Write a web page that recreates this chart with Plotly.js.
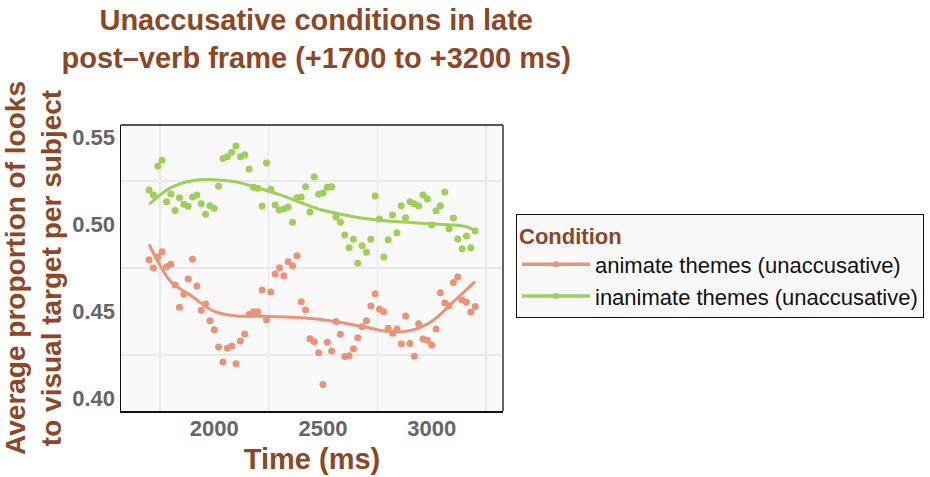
<!DOCTYPE html>
<html>
<head>
<meta charset="utf-8">
<script src="https://cdn.plot.ly/plotly-3.0.1.min.js"></script>
<style>html,body{margin:0;padding:0;background:#fff;}#chart{width:930px;height:477px;}</style>
</head>
<body>
<div id="chart"></div>
<script>
// ---- data ----
const timeMs = [1700,1720,1740,1760,1780,1800,1820,1840,1860,1880,1900,1920,1940,1960,1980,2000,2020,2040,2060,2080,2100,2120,2140,2160,2180,2200,2220,2240,2260,2280,2300,2320,2340,2360,2380,2400,2420,2440,2460,2480,2500,2520,2540,2560,2580,2600,2620,2640,2660,2680,2700,2720,2740,2760,2780,2800,2820,2840,2860,2880,2900,2920,2940,2960,2980,3000,3020,3040,3060,3080,3100,3120,3140,3160,3180,3200];
const animateVals = [0.4798,0.4750,0.4813,0.4843,0.4757,0.4771,0.4652,0.4524,0.4599,0.4687,0.4800,0.4647,0.4507,0.4543,0.4447,0.4395,0.4296,0.4210,0.4288,0.4302,0.4200,0.4330,0.4371,0.4482,0.4499,0.4499,0.4624,0.4453,0.4612,0.4716,0.4752,0.4706,0.4786,0.4763,0.4821,0.4556,0.4509,0.4344,0.4326,0.4263,0.4081,0.4323,0.4273,0.4443,0.4369,0.4241,0.4246,0.4286,0.4349,0.4413,0.4447,0.4532,0.4602,0.4513,0.4499,0.4403,0.4375,0.4399,0.4315,0.4474,0.4316,0.4243,0.4430,0.4342,0.4334,0.4307,0.4399,0.4608,0.4550,0.4533,0.4666,0.4698,0.4566,0.4553,0.4497,0.4528];
const inanimateVals = [0.5198,0.5170,0.5336,0.5369,0.5131,0.5175,0.5081,0.5154,0.5116,0.5105,0.5158,0.5170,0.5120,0.5059,0.5108,0.5093,0.5220,0.5380,0.5390,0.5415,0.5451,0.5390,0.5401,0.5319,0.5214,0.5208,0.5106,0.5353,0.5202,0.5112,0.5083,0.5089,0.5100,0.5013,0.5154,0.5158,0.5217,0.5072,0.5275,0.5174,0.5181,0.5214,0.5217,0.5043,0.5013,0.4940,0.4867,0.4915,0.4777,0.4878,0.4840,0.4915,0.5164,0.5032,0.4813,0.4913,0.5055,0.4953,0.5108,0.5039,0.5131,0.5120,0.5106,0.5170,0.5147,0.4997,0.5079,0.5108,0.5187,0.4976,0.5037,0.4917,0.4861,0.4934,0.4867,0.4963];
// smoothed curves
const smoothTimeA = [1700,1750,1800,1900,2000,2100,2200,2300,2400,2500,2600,2700,2800,2900,3000,3100,3200];
const smoothAnimate = [0.4885,0.4767,0.4672,0.4585,0.4500,0.4474,0.4473,0.4470,0.4464,0.4453,0.4432,0.4409,0.4385,0.4390,0.4443,0.4556,0.4672];
const smoothTimeI = [1700,1800,1900,2000,2100,2200,2300,2400,2500,2600,2700,2800,2900,3000,3100,3150,3200];
const smoothInanimate = [0.5115,0.5212,0.5252,0.5258,0.5245,0.5210,0.5172,0.5125,0.5082,0.5055,0.5033,0.5020,0.5012,0.5004,0.4997,0.4990,0.4966];
const seriesNames = ["animate themes (unaccusative)", "inanimate themes (unaccusative)"];
const xTickVals = [2000, 2500, 3000];
const yTickVals = [0.40, 0.45, 0.50, 0.55];
const yTickText = ["0.40", "0.45", "0.50", "0.55"];

// ---- style ----
const RED = "#eb9277";
const GREEN = "#9ecf57";
const BROWN = "#8b4726";
const FONT = "Liberation Sans, Arial, Helvetica, sans-serif";

const traces = [
  {x: timeMs, y: animateVals, type: "scatter", mode: "markers", showlegend: false,
   marker: {color: RED, size: 7}, hoverinfo: "x+y"},
  {x: timeMs, y: inanimateVals, type: "scatter", mode: "markers", showlegend: false,
   marker: {color: GREEN, size: 7}, hoverinfo: "x+y"},
  {x: smoothTimeA, y: smoothAnimate, type: "scatter", mode: "lines", showlegend: false,
   line: {color: RED, width: 3, shape: "spline", smoothing: 1}},
  {x: smoothTimeI, y: smoothInanimate, type: "scatter", mode: "lines", showlegend: false,
   line: {color: GREEN, width: 3, shape: "spline", smoothing: 1}},
  {x: [null], y: [null], type: "scatter", mode: "lines+markers", name: seriesNames[0],
   line: {color: RED, width: 3.5}, marker: {color: RED, size: 6}},
  {x: [null], y: [null], type: "scatter", mode: "lines+markers", name: seriesNames[1],
   line: {color: GREEN, width: 3.5}, marker: {color: GREEN, size: 6}}
];

const layout = {
  width: 930, height: 477,
  margin: {l: 121, r: 427, t: 125, b: 66, autoexpand: false},
  paper_bgcolor: "#ffffff",
  plot_bgcolor: "#f9f9f9",
  font: {family: FONT},
  title: {
    text: "Unaccusative conditions in late<br>post\u2013verb frame (+1700 to +3200 ms)",
    font: {family: FONT, size: 29, color: BROWN, weight: 700},
    x: 0.34, xanchor: "center", xref: "container",
    y: 0.937, yanchor: "top", yref: "container"
  },
  xaxis: {
    range: [1571, 3328],
    tickmode: "array", tickvals: xTickVals, ticktext: xTickVals.map(String),
    showgrid: false, zeroline: false,
    minor: {tick0: 1750, dtick: 500, showgrid: true, gridcolor: "#e8e8e8", gridwidth: 1.2},
    ticks: "", showline: true, linecolor: "#111", linewidth: 1.5, mirror: false,
    ticklabelstandoff: -3,
    tickfont: {family: FONT, size: 22, color: "#666666", weight: 700},
    title: {text: "Time (ms)", font: {family: FONT, size: 29, color: BROWN, weight: 700}, standoff: 9}
  },
  yaxis: {
    range: [0.3928, 0.5572],
    tickmode: "array", tickvals: yTickVals, ticktext: yTickText,
    showgrid: false, zeroline: false,
    minor: {tick0: 0.425, dtick: 0.05, showgrid: true, gridcolor: "#e8e8e8", gridwidth: 1.2},
    ticks: "", showline: true, linecolor: "#111", linewidth: 1.5, mirror: false,
    tickfont: {family: FONT, size: 22, color: "#666666", weight: 700},
    title: {text: "Average proportion of looks<br>to visual target per subject",
            font: {family: FONT, size: 28, color: BROWN, weight: 700}, standoff: 4}
  },
  shapes: [
    {type: "line", xref: "paper", yref: "paper", x0: 0, x1: 1, y0: 1, y1: 1, line: {color: "#555", width: 1.8}, layer: "above"},
    {type: "line", xref: "paper", yref: "paper", x0: 1, x1: 1, y0: 0, y1: 1, line: {color: "#555", width: 1.8}, layer: "above"}
  ],
  legend: {
    x: 1.034, xanchor: "left", y: 0.689, yanchor: "top",
    bgcolor: "#f9f9f9", bordercolor: "#111", borderwidth: 1,
    title: {text: "Condition", font: {family: FONT, size: 22, color: BROWN, weight: 700}},
    font: {family: FONT, size: 22, color: "#111"},
    itemwidth: 68
  },
  showlegend: true
};

Plotly.newPlot("chart", traces, layout, {displayModeBar: false, staticPlot: true});
</script>
</body>
</html>
